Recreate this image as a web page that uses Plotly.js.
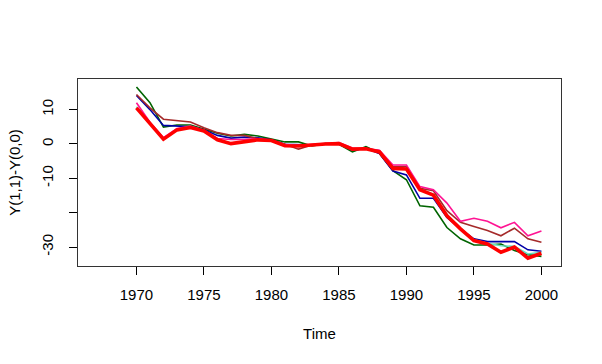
<!DOCTYPE html>
<html>
<head>
<meta charset="utf-8">
<script src="https://cdn.plot.ly/plotly-3.0.1.min.js"></script>
<style>
  html, body { margin: 0; padding: 0; background: #fff; }
  #plot { width: 602px; height: 364px; }
</style>
</head>
<body>
<div id="plot"></div>
<script>
// years 1970..2000
var years = [];
for (var y = 1970; y <= 2000; y++) years.push(y);

// values
var greenVals = [16.6, 12.0, 4.9, 5.5, 5.5, 4.4, 3.1, 2.3, 2.8, 2.3, 1.4, 0.6, 0.6, -0.6, 0.1, -0.1,
  -2.3, -0.8, -2.7, -7.8, -10.4, -18.0, -18.4, -24.3, -27.6, -29.4, -29.4, -29.1, -31.0, -32.2, -32.7];
var blueVals = [14.1, 10.0, 5.4, 5.2, 5.0, 4.1, 2.5, 1.7, 2.0, 1.8, 1.2, -0.1, -0.3, -0.3, 0.0, 0.0,
  -1.8, -1.3, -2.8, -7.9, -9.0, -15.8, -15.8, -21.4, -24.7, -27.6, -28.4, -28.4, -28.4, -30.8, -31.2];
var brownVals = [14.4, 10.5, 7.2, 6.9, 6.4, 4.7, 3.3, 2.5, 2.5, 1.5, 1.1, -0.1, -1.5, -0.3, 0.1, 0.0,
  -1.5, -1.3, -2.0, -6.6, -6.6, -12.9, -13.6, -19.4, -22.8, -24.0, -25.2, -26.7, -24.5, -27.6, -28.6];
var aquaVals = [10.8, 6.2, 1.6, 4.0, 4.8, 3.9, 1.3, 0.3, 0.7, 1.3, 1.0, -0.4, -0.5, -0.2, 0.0, 0.2,
  -1.4, -1.4, -2.2, -7.0, -7.2, -13.2, -14.7, -20.6, -24.5, -27.9, -28.9, -29.6, -29.8, -32.0, -31.5];
var pinkVals = [12.0, 6.3, 1.8, 4.5, 5.2, 4.0, 1.6, 1.3, 1.3, 1.6, 1.1, -0.2, -0.4, -0.2, 0.1, 0.4,
  -1.2, -1.3, -1.8, -6.1, -6.1, -12.4, -13.3, -17.2, -22.5, -21.6, -22.5, -24.4, -22.8, -26.7, -25.3];
var redVals = [10.5, 5.8, 1.4, 4.1, 4.8, 3.8, 1.2, 0.1, 0.6, 1.2, 1.0, -0.5, -0.6, -0.2, 0.0, 0.1,
  -1.5, -1.4, -2.3, -7.1, -7.3, -13.3, -14.9, -20.9, -24.7, -28.1, -29.1, -31.5, -30.0, -33.2, -31.8];

var yTickVals = [-30, -20, -10, 0, 10];
var yTickText = ["-30", "", "-10", "0", "10"];
var xTickVals = [1970, 1975, 1980, 1985, 1990, 1995, 2000];

function line(vals, color, width) {
  return {x: years, y: vals, type: "scatter", mode: "lines",
    line: {color: color, width: width}, hoverinfo: "skip"};
}

var data = [
  line(greenVals, "#006400", 1.6),
  line(blueVals, "#0000a8", 1.6),
  line(brownVals, "#a52a2a", 1.6),
  line(aquaVals, "#66e0c0", 1.6),
  line(pinkVals, "#ff1493", 1.6),
  line(redVals, "#ff0000", 3.6)
];

var font = {family: "Liberation Sans, Arial, sans-serif", size: 15, color: "#000"};

var layout = {
  width: 602, height: 364,
  margin: {l: 78, r: 41, t: 79, b: 98},
  paper_bgcolor: "#fff", plot_bgcolor: "#fff",
  showlegend: false,
  font: font,
  xaxis: {
    range: [1965.67, 2001.45],
    tickvals: xTickVals,
    ticks: "outside", ticklen: 8, tickcolor: "#000", tickwidth: 1,
    ticklabelstandoff: 7,
    showgrid: false, zeroline: false,
    showline: true, linecolor: "#333", linewidth: 1, mirror: true,
    tickfont: font,
    title: {text: "Time", font: font, standoff: 26}
  },
  yaxis: {
    range: [-35.5, 18.9],
    tickvals: yTickVals, ticktext: yTickText,
    tickangle: -90,
    ticks: "outside", ticklen: 8, tickcolor: "#000", tickwidth: 1,
    ticklabelstandoff: 10,
    showgrid: false, zeroline: false,
    showline: true, linecolor: "#333", linewidth: 1, mirror: true,
    tickfont: font,
    title: {text: "Y(1,1)-Y(0,0)", font: font, standoff: 14}
  }
};

Plotly.newPlot("plot", data, layout, {staticPlot: true});
</script>
</body>
</html>
